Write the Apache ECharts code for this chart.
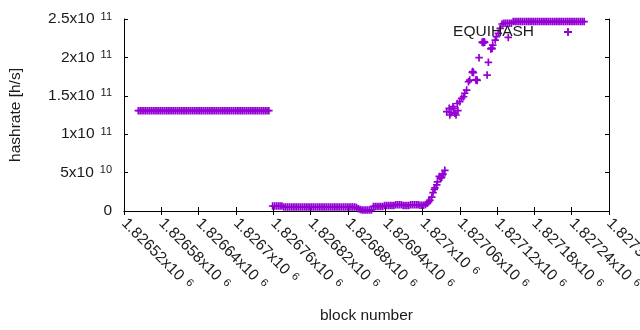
<!DOCTYPE html>
<html>
<head>
<meta charset="utf-8">
<script src="https://cdn.jsdelivr.net/npm/echarts@6/dist/echarts.min.js"></script>
<style>
html, body { margin: 0; padding: 0; background: #fff; }
#chart { width: 640px; height: 330px; }
</style>
</head>
<body>
<div id="chart"></div>
<script>
// hashrate values are in GH/s (x1e9 h/s)

// old band at ~1.3x10^11
var blocksA = [
    1826543, 1826546, 1826549, 1826552, 1826555, 1826558, 1826561, 1826564, 1826567, 1826570,
    1826573, 1826576, 1826579, 1826582, 1826585, 1826588, 1826591, 1826594, 1826597, 1826600,
    1826603, 1826606, 1826609, 1826612, 1826615, 1826618, 1826621, 1826624, 1826627, 1826630,
    1826633, 1826636, 1826639, 1826642, 1826645, 1826648, 1826651, 1826654, 1826657, 1826660,
    1826663, 1826666, 1826669, 1826672, 1826675, 1826678, 1826681, 1826684, 1826687, 1826690,
    1826693, 1826696, 1826699, 1826702, 1826705, 1826708, 1826711, 1826714, 1826717, 1826720,
    1826723, 1826726, 1826729, 1826732, 1826735, 1826738, 1826741, 1826744, 1826747, 1826750,
    1826753
];
var rateA = [
    130.6, 130.6, 130.6, 130.6, 130.6, 130.6, 130.6, 130.6, 130.6, 130.6,
    130.6, 130.6, 130.6, 130.6, 130.6, 130.6, 130.6, 130.6, 130.6, 130.6,
    130.6, 130.6, 130.6, 130.6, 130.6, 130.6, 130.6, 130.6, 130.6, 130.6,
    130.6, 130.6, 130.6, 130.6, 130.6, 130.6, 130.6, 130.6, 130.6, 130.6,
    130.6, 130.6, 130.6, 130.6, 130.6, 130.6, 130.6, 130.6, 130.6, 130.6,
    130.6, 130.6, 130.6, 130.6, 130.6, 130.6, 130.6, 130.6, 130.6, 130.6,
    130.6, 130.6, 130.6, 130.6, 130.6, 130.6, 130.6, 130.6, 130.6, 130.6,
    130.6
];

// low band after the drop
var blocksB = [
    1826759, 1826762, 1826765, 1826768, 1826771, 1826774,
    1826777, 1826780, 1826783, 1826786, 1826789, 1826792, 1826795, 1826798, 1826801, 1826804,
    1826807, 1826810, 1826813, 1826816, 1826819, 1826822, 1826825, 1826828, 1826831, 1826834,
    1826837, 1826840, 1826843, 1826846, 1826849, 1826852, 1826855, 1826858, 1826861, 1826864,
    1826867, 1826870, 1826873, 1826876, 1826879, 1826882, 1826885, 1826888, 1826891,
    1826894, 1826897, 1826900,
    1826903, 1826906, 1826909, 1826912, 1826915, 1826918,
    1826921, 1826924, 1826927, 1826930, 1826933, 1826936,
    1826939, 1826942, 1826945, 1826948, 1826951, 1826954, 1826957, 1826960, 1826963, 1826966,
    1826969, 1826972, 1826975, 1826978, 1826981, 1826984, 1826987, 1826990, 1826993, 1826996,
    1826999, 1827002
];
var rateB = [
    6.5, 6.5, 6.5, 6.5, 6.5, 6.5,
    5.2, 5.2, 5.2, 5.2, 5.2, 5.2, 5.2, 5.2, 5.2, 5.2,
    5.2, 5.2, 5.2, 5.2, 5.2, 5.2, 5.2, 5.2, 5.2, 5.2,
    5.2, 5.2, 5.2, 5.2, 5.2, 5.2, 5.2, 5.2, 5.2, 5.2,
    5.2, 5.2, 5.2, 5.2, 5.2, 5.2, 5.2, 5.2, 5.2,
    4.5, 3, 2,
    1.3, 1.3, 1.3, 1.3, 1.3, 1.3,
    6, 6, 6, 6, 6, 6,
    7, 7, 7, 7, 7, 7, 8.2, 8.2, 8.2, 8.2,
    7.2, 7.2, 7.2, 7.2, 8, 8, 8, 8, 8, 7.4,
    7.4, 7.4
];

// climb
var blocksC = [
    1827005, 1827008, 1827010, 1827012, 1827015, 1827017, 1827019, 1827020, 1827023, 1827024,
    1827027, 1827029, 1827030, 1827031, 1827032, 1827033, 1827036,
    1827039, 1827043, 1827044, 1827046, 1827049, 1827050, 1827052, 1827054, 1827056, 1827057,
    1827060, 1827063, 1827066, 1827068, 1827071, 1827074, 1827076,
    1827080, 1827081, 1827082, 1827086, 1827087, 1827088, 1827091,
    1827096, 1827097, 1827098, 1827099, 1827100, 1827104, 1827106,
    1827110, 1827111, 1827112, 1827113, 1827117, 1827119, 1827122, 1827125, 1827128, 1827138
];
var rateC = [
    8.5, 10, 12, 14, 18, 24, 28, 30, 34, 38,
    45, 44, 43, 44, 47, 48, 53,
    129.3, 133.7, 125, 128, 135.8, 133.7, 127.2, 125, 140, 130.8,
    142.3, 146.7, 148.8, 153.3, 157.5, 168.3, 170.5,
    180.6, 181.5, 180, 170.5, 171, 170, 199.6,
    219.6, 220, 219, 220.5, 219.6, 177, 193.6,
    211, 212, 211.5, 216, 222.6, 227, 231.4, 237.9, 243.5, 226
];

// top band near 2.5x10^11
var blocksD = [
    1827131, 1827134, 1827137, 1827140, 1827143,
    1827146, 1827149, 1827152, 1827155, 1827158, 1827161, 1827164, 1827167, 1827170, 1827173,
    1827176, 1827179, 1827182, 1827185, 1827188, 1827191, 1827194, 1827197, 1827200, 1827203,
    1827206, 1827209, 1827212, 1827215, 1827218, 1827221, 1827224, 1827227, 1827230, 1827233,
    1827236, 1827239, 1827242, 1827245, 1827248, 1827251, 1827254, 1827257, 1827260
];
var rateD = [
    244.5, 244.5, 244.5, 244.5, 244.5,
    246.7, 246.7, 246.7, 246.7, 246.7, 246.7, 246.7, 246.7, 246.7, 246.7,
    246.7, 246.7, 246.7, 246.7, 246.7, 246.7, 246.7, 246.7, 246.7, 246.7,
    246.7, 246.7, 246.7, 246.7, 246.7, 246.7, 246.7, 246.7, 246.7, 246.7,
    246.7, 246.7, 246.7, 246.7, 246.7, 246.7, 246.7, 246.7, 246.7
];

var xMin = 1826520, xMax = 1827300, xStep = 60;
var yMin = 0, yMax = 250, yStep = 50;

var blocks = blocksA.concat(blocksB, blocksC, blocksD);
var rates = rateA.concat(rateB, rateC, rateD);
var points = [];
for (var i = 0; i < blocks.length; i++) {
    points.push([blocks[i], rates[i]]);
}

var purple = '#9400d3';
var ink = '#1a1a1a';
var font = 'Liberation Sans, Arial, sans-serif';
// gnuplot style "+" point
var plus = 'path://M3.1,0H4.9V3.1H8V4.9H4.9V8H3.1V4.9H0V3.1H3.1Z';

function sciLabel(h) {
    if (h === 0) return '{b|0}';
    var e = Math.floor(Math.log10(h) + 1e-9);
    var m = parseFloat((h / Math.pow(10, e)).toFixed(3));
    return '{b|' + m + 'x10}{s|' + e + '}';
}

var rich = {
    b: { fontSize: 15.5, fontFamily: font, color: ink },
    s: { fontSize: 11, fontFamily: font, color: ink, verticalAlign: 'top', padding: [0, 0, 0, 6] }
};

var chart = echarts.init(document.getElementById('chart'), null, { renderer: 'canvas' });

var option = {
    animation: false,
    backgroundColor: '#fff',
    grid: { left: 124, right: 31, top: 19, bottom: 119, outerBoundsMode: 'none' },
    legend: {
        right: 68,
        top: 24,
        padding: 0,
        align: 'right',
        itemWidth: 58,
        itemHeight: 8,
        textStyle: { fontSize: 15.5, fontFamily: font, color: ink },
        data: [{ name: 'EQUIHASH', icon: plus }]
    },
    xAxis: [
        {
            type: 'value',
            min: xMin,
            max: xMax,
            interval: xStep,
            name: 'block number',
            nameLocation: 'middle',
            nameGap: 97,
            nameTextStyle: { fontSize: 15.5, fontFamily: font, color: ink },
            axisLine: { show: true, lineStyle: { color: '#000', width: 1 } },
            axisTick: { show: true, inside: true, length: 4, lineStyle: { color: '#000' } },
            splitLine: { show: false },
            axisLabel: {
                rotate: -45,
                margin: 10,
                showMinLabel: true,
                showMaxLabel: true,
                hideOverlap: false,
                formatter: function (v) {
                    return '{b|' + parseFloat((v / 1e6).toFixed(5)) + 'x10}{s|6}';
                },
                rich: rich
            }
        },
        {
            // mirrored ticks on top border
            type: 'value',
            position: 'top',
            min: xMin,
            max: xMax,
            interval: xStep,
            axisLine: { show: true, lineStyle: { color: '#000', width: 1 } },
            axisTick: { show: true, inside: true, length: 4, lineStyle: { color: '#000' } },
            axisLabel: { show: false },
            splitLine: { show: false }
        }
    ],
    yAxis: [
        {
            type: 'value',
            min: yMin,
            max: yMax,
            interval: yStep,
            name: 'hashrate [h/s]',
            nameLocation: 'middle',
            nameGap: 100,
            nameTextStyle: { fontSize: 15.5, fontFamily: font, color: ink },
            axisLine: { show: true, lineStyle: { color: '#000', width: 1 } },
            axisTick: { show: true, inside: true, length: 4, lineStyle: { color: '#000' } },
            splitLine: { show: false },
            axisLabel: {
                margin: 12,
                formatter: function (v) { return sciLabel(v * 1e9); },
                rich: rich
            }
        },
        {
            // mirrored ticks on right border
            type: 'value',
            position: 'right',
            min: yMin,
            max: yMax,
            interval: yStep,
            axisLine: { show: true, lineStyle: { color: '#000', width: 1 } },
            axisTick: { show: true, inside: true, length: 4, lineStyle: { color: '#000' } },
            axisLabel: { show: false },
            splitLine: { show: false }
        }
    ],
    series: [
        {
            name: 'EQUIHASH',
            type: 'scatter',
            symbol: plus,
            symbolSize: 7.5,
            itemStyle: { color: purple, opacity: 1 },
            data: points
        }
    ]
};

chart.setOption(option);
</script>
</body>
</html>
